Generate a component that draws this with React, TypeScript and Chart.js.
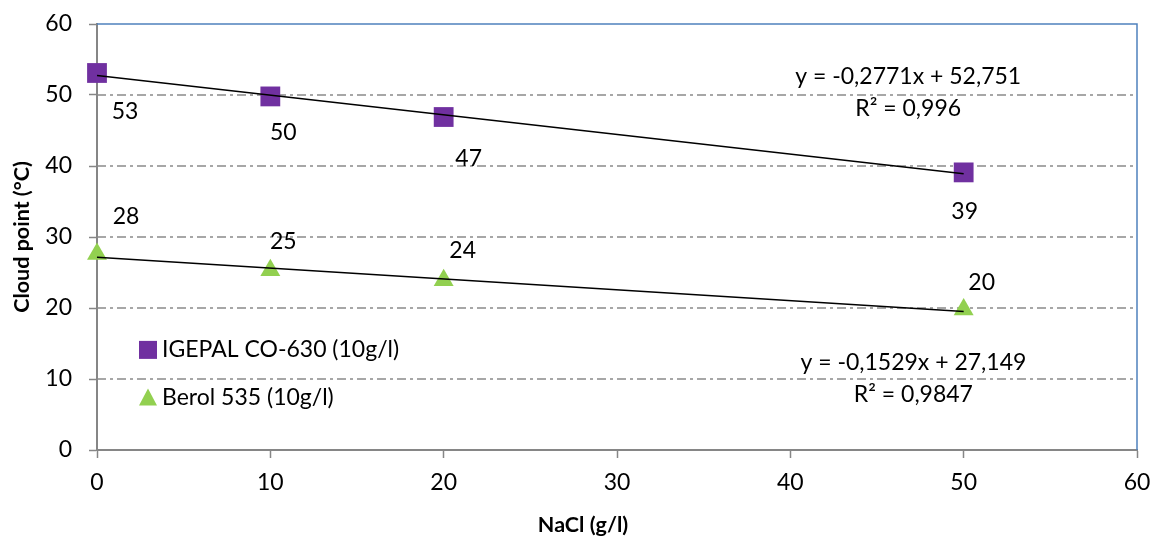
import { useEffect, useRef } from 'react';
import { Chart, registerables } from 'chart.js';

Chart.register(...registerables);

// ---- data ----
const nacl = [0, 10, 20, 50];
const igepal = [53.1, 49.8, 46.9, 39.1];
const berol = [27.6, 25.3, 23.9, 19.8];
const igepalLabels = ['53', '50', '47', '39'];
const berolLabels = ['28', '25', '24', '20'];
const igepalTrend = { slope: -0.2771, intercept: 52.751, eq: 'y = -0,2771x + 52,751', r2: 'R² = 0,996' };
const berolTrend = { slope: -0.1529, intercept: 27.149, eq: 'y = -0,1529x + 27,149', r2: 'R² = 0,9847' };
const trendRange = [0, 50];
const seriesNames = ['IGEPAL CO-630 (10g/l)', 'Berol 535 (10g/l)'];
const xTitle = 'NaCl (g/l)';
const yTitle = 'Cloud point (°C)';
const gridValues = [10, 20, 30, 40, 50];

// ---- styles / positions ----
const FONT = 'Lato, "Open Sans", sans-serif';
const FS = 23;
const PURPLE = '#7030A0';
const GREEN = '#92D050';
const GRAY = '#868686';
const BLUE = '#4F81BD';
const igepalLabelOffsets = [[28, 39], [13, 36], [25, 42], [1, 39]];
const berolLabelOffsets = [[29, -37], [13, -29], [19, -30], [18, -27]];
const eqAnchors = [{ x: 46.8, y: 50.3 }, { x: 47.1, y: 10.1 }];

const trendPoints = (t: { slope: number; intercept: number }) =>
  trendRange.map((x) => ({ x, y: t.intercept + t.slope * x }));

const decorPlugin = {
  id: 'decor',
  beforeDatasetsDraw(chart: any) {
    const { ctx, chartArea: a, scales } = chart;
    const ys = scales.y;
    ctx.save();
    ctx.strokeStyle = '#8a8a8a';
    ctx.lineWidth = 1.5;
    ctx.setLineDash([9, 4, 3, 4]);
    gridValues.forEach((v) => {
      const py = Math.round(ys.getPixelForValue(v));
      ctx.beginPath();
      ctx.moveTo(a.left, py);
      ctx.lineTo(a.right, py);
      ctx.stroke();
    });
    ctx.setLineDash([]);
    ctx.strokeStyle = BLUE;
    ctx.lineWidth = 1.5;
    ctx.beginPath();
    ctx.moveTo(a.left, a.top);
    ctx.lineTo(a.right, a.top);
    ctx.lineTo(a.right, a.bottom);
    ctx.stroke();
    ctx.restore();
  },
  afterDatasetsDraw(chart: any) {
    const { ctx, scales, chartArea: a } = chart;
    const xs = scales.x;
    const ys = scales.y;
    ctx.save();
    ctx.fillStyle = '#000';
    ctx.font = `${FS}px ${FONT}`;
    ctx.textAlign = 'center';
    ctx.textBaseline = 'middle';
    nacl.forEach((x, i) => {
      const px = xs.getPixelForValue(x);
      ctx.fillText(igepalLabels[i], px + igepalLabelOffsets[i][0], ys.getPixelForValue(igepal[i]) + igepalLabelOffsets[i][1]);
      ctx.fillText(berolLabels[i], px + berolLabelOffsets[i][0], ys.getPixelForValue(berol[i]) + berolLabelOffsets[i][1]);
    });
    [igepalTrend, berolTrend].forEach((t, i) => {
      const px = xs.getPixelForValue(eqAnchors[i].x);
      const py = ys.getPixelForValue(eqAnchors[i].y);
      ctx.fillText(t.eq, px, py - 16);
      ctx.fillText(t.r2, px, py + 16);
    });
    // legend
    const lx = a.left + 51;
    const ly1 = ys.getPixelForValue(14.1);
    const ly2 = ys.getPixelForValue(7.4);
    ctx.fillStyle = PURPLE;
    ctx.fillRect(lx - 9, ly1 - 9, 18, 18);
    ctx.fillStyle = GREEN;
    ctx.beginPath();
    ctx.moveTo(lx, ly2 - 9);
    ctx.lineTo(lx + 9, ly2 + 8);
    ctx.lineTo(lx - 9, ly2 + 8);
    ctx.closePath();
    ctx.fill();
    ctx.fillStyle = '#000';
    ctx.textAlign = 'left';
    ctx.fillText(seriesNames[0], lx + 14, ly1);
    ctx.fillText(seriesNames[1], lx + 14, ly2);
    // axis titles
    ctx.font = `bold 21.5px ${FONT}`;
    ctx.textAlign = 'center';
    ctx.fillText(xTitle, 583, 525);
    ctx.save();
    ctx.translate(22, (a.top + a.bottom) / 2);
    ctx.rotate(-Math.PI / 2);
    ctx.fillText(yTitle, 0, 0);
    ctx.restore();
    ctx.restore();
  },
};

export default function App() {
  const ref = useRef<HTMLCanvasElement>(null);
  useEffect(() => {
    const chart = new Chart(ref.current!, {
      type: 'scatter',
      data: {
        datasets: [
          {
            label: 'trend1',
            data: trendPoints(igepalTrend),
            showLine: true,
            borderColor: '#000',
            borderWidth: 1.5,
            pointRadius: 0,
            clip: false,
          },
          {
            label: 'trend2',
            data: trendPoints(berolTrend),
            showLine: true,
            borderColor: '#000',
            borderWidth: 1.5,
            pointRadius: 0,
            clip: false,
          },
          {
            label: seriesNames[0],
            data: nacl.map((x, i) => ({ x, y: igepal[i] })),
            pointStyle: 'rect',
            pointRadius: 14,
            backgroundColor: PURPLE,
            borderColor: PURPLE,
            borderWidth: 0,
            clip: false,
          },
          {
            label: seriesNames[1],
            data: nacl.map((x, i) => ({ x, y: berol[i] })),
            pointStyle: 'triangle',
            pointRadius: 11.5,
            backgroundColor: GREEN,
            borderColor: GREEN,
            borderWidth: 0,
            clip: false,
          },
        ],
      },
      options: {
        animation: false,
        responsive: false,
        events: [],
        layout: { padding: { left: 0, right: 17, top: 24, bottom: 0 } },
        plugins: { legend: { display: false }, tooltip: { enabled: false } },
        scales: {
          x: {
            type: 'linear',
            min: 0,
            max: 60,
            ticks: { stepSize: 10, color: '#000', font: { family: FONT, size: FS }, padding: 11, maxRotation: 0 },
            grid: { drawOnChartArea: false, tickLength: 8, tickColor: GRAY, tickWidth: 1.5 },
            border: { color: GRAY, width: 2 },
            afterFit: (s: any) => { s.height = 88; s.paddingLeft = 0; s.paddingRight = 0; },
          },
          y: {
            type: 'linear',
            min: 0,
            max: 60,
            ticks: { stepSize: 10, color: '#000', font: { family: FONT, size: FS }, padding: 17 },
            grid: { drawOnChartArea: false, tickLength: 8, tickColor: GRAY, tickWidth: 1.5 },
            border: { color: GRAY, width: 2 },
            afterFit: (s: any) => { s.width = 97; s.paddingTop = 0; s.paddingBottom = 0; },
          },
        },
      },
      plugins: [decorPlugin],
    });
    return () => chart.destroy();
  }, []);
  return (
    <div style={{ position: 'absolute', left: 0, top: 0, width: 1154, height: 538, background: '#fff' }}>
      <canvas ref={ref} width={1154} height={538} />
    </div>
  );
}
